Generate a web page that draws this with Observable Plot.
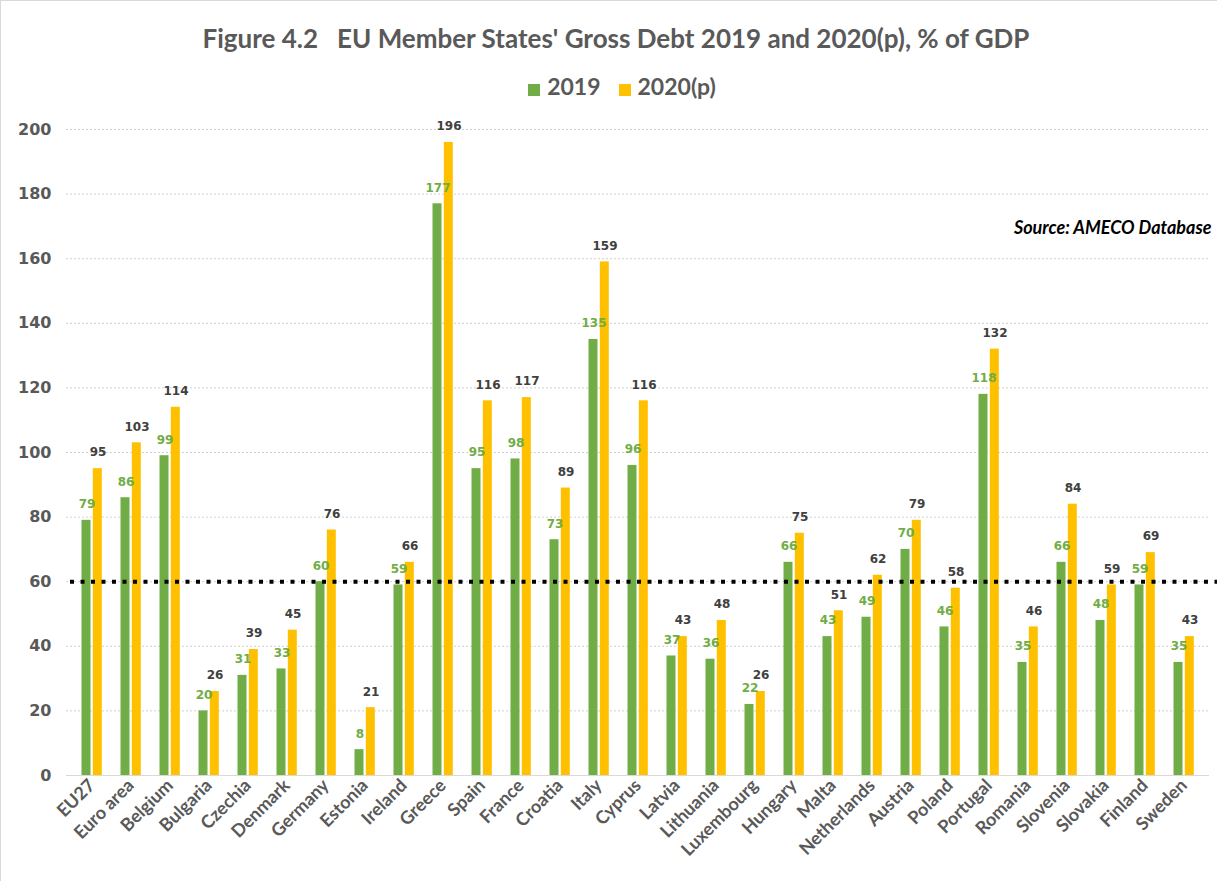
<!DOCTYPE html>
<html>
<head>
<meta charset="utf-8">
<script src="https://cdn.jsdelivr.net/npm/d3@7"></script>
<script src="https://cdn.jsdelivr.net/npm/@observablehq/plot@0.6"></script>
<style>
  html, body { margin: 0; padding: 0; background: #fff; }
  #wrap { position: relative; width: 1217px; height: 881px; box-sizing: border-box; border-left: 1px solid #d9d9d9; border-top: 1px solid #d9d9d9; overflow: hidden; background:#fff; }
  #title { position: relative; top: 3px; height: 62px; padding-top: 18px; box-sizing: border-box; line-height: 44px; text-align: center; font: bold 26px Lato, "Open Sans", sans-serif; color: #595959; white-space: pre; padding-left: 14px; }
  #legend { position: relative; top: 9px; height: 50px; line-height: 50px; text-align: center; font: bold 23px Lato, "Open Sans", sans-serif; color: #595959; padding-left: 26px; }
  #legend span.item { display: inline-block; margin: 0 9px; }
  #legend span.sw { display: inline-block; width: 12px; height: 12px; margin-right: 7px; vertical-align: -1px; }
  #chart svg { display: block; }
</style>
</head>
<body>
<div id="wrap">
  <div id="title"></div>
  <div id="legend"></div>
  <div id="chart"></div>
</div>
<script>
const titleText = "Figure 4.2   EU Member States' Gross Debt 2019 and 2020(p), % of GDP";
const countries = ["EU27","Euro area","Belgium","Bulgaria","Czechia","Denmark","Germany","Estonia","Ireland","Greece","Spain","France","Croatia","Italy","Cyprus","Latvia","Lithuania","Luxembourg","Hungary","Malta","Netherlands","Austria","Poland","Portugal","Romania","Slovenia","Slovakia","Finland","Sweden"];
const debt2019 = [79,86,99,20,31,33,60,8,59,177,95,98,73,135,96,37,36,22,66,43,49,70,46,118,35,66,48,59,35];
const debt2020 = [95,103,114,26,39,45,76,21,66,196,116,117,89,159,116,43,48,26,75,51,62,79,58,132,46,84,59,69,43];
const seriesNames = ["2019","2020(p)"];
const seriesColors = ["#70AD47","#FFC000"];
const yTicks = [0,20,40,60,80,100,120,140,160,180,200];
const threshold = [60];
const sourceNote = ["Source: AMECO Database"];

document.getElementById("title").textContent = titleText;
const leg = document.getElementById("legend");
seriesNames.forEach((n, i) => {
  const it = document.createElement("span");
  it.className = "item";
  const sw = document.createElement("span");
  sw.className = "sw";
  sw.style.background = seriesColors[i];
  it.appendChild(sw);
  it.appendChild(document.createTextNode(n));
  leg.appendChild(it);
});

const d19 = countries.map((c, i) => ({country: c, value: debt2019[i]}));
const d20 = countries.map((c, i) => ({country: c, value: debt2020[i]}));

const numFont = "DejaVu Sans";
const textFont = "Lato";

const chart = Plot.plot({
  width: 1216,
  height: 769,
  marginTop: 16,
  marginBottom: 107,
  marginLeft: 65,
  marginRight: 8,
  x: {type: "band", domain: countries, padding: 0},
  y: {domain: [0, 200], range: [769 - 107, 16]},
  marks: [
    Plot.gridY(yTicks.filter(d => d > 0), {stroke: "#d0d0d0", strokeOpacity: 1, strokeDasharray: "2,2"}),
    Plot.ruleY([0], {stroke: "#d9d9d9", strokeWidth: 1}),
    Plot.barY(d19, {x: "country", y: "value", fill: seriesColors[0], insetLeft: 9.5, insetRight: 20.5}),
    Plot.barY(d20, {x: "country", y: "value", fill: seriesColors[1], insetLeft: 20.8, insetRight: 9.2}),
    Plot.ruleY(threshold, {stroke: "#000", strokeWidth: 4, strokeDasharray: "4,6.5", insetLeft: 4, insetRight: -9}),
    Plot.text(d19, {x: "country", y: "value", text: d => String(d.value), dx: -5, dy: -16, fill: seriesColors[0], fontFamily: numFont, fontWeight: "bold", fontSize: 12}),
    Plot.text(d20, {x: "country", y: "value", text: d => String(d.value), dx: 6, dy: -16, fill: "#404040", fontFamily: numFont, fontWeight: "bold", fontSize: 12}),
    Plot.text(sourceNote, {frameAnchor: "top-right", dy: 92, dx: 2, textAnchor: "end", fill: "#000", fontFamily: textFont, fontWeight: "bold", fontStyle: "italic", fontSize: 18}),
    Plot.axisY({ticks: yTicks, tickSize: 0, tickPadding: 15, label: null, fill: "#595959", fontFamily: numFont, fontWeight: "bold", fontSize: 16}),
    Plot.axisX({tickSize: 0, tickPadding: 7, tickRotate: -45, label: null, fill: "#595959", fontFamily: textFont, fontWeight: "bold", fontSize: 18})
  ]
});
document.getElementById("chart").appendChild(chart);
</script>
</body>
</html>
